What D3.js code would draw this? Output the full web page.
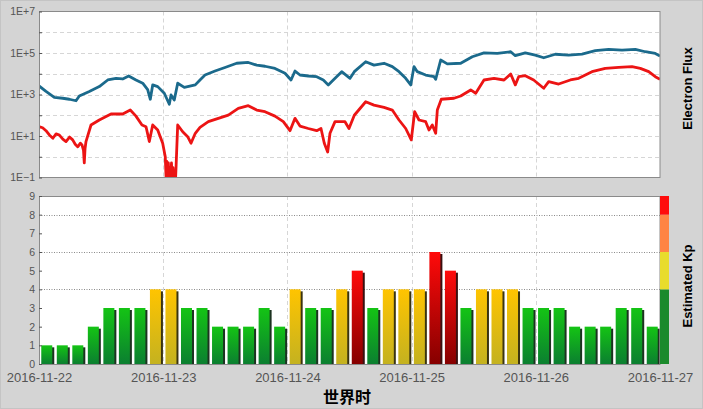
<!DOCTYPE html>
<html>
<head>
<meta charset="utf-8">
<script src="https://cdn.jsdelivr.net/npm/d3@7"></script>
<style>
  html, body { margin: 0; padding: 0; background: #d4d4d4; }
  svg { display: block; }
</style>
</head>
<body>
<svg id="chart" width="703" height="409"></svg>
<script>
// ---------------- DATA ----------------
const dayLabels = ["2016-11-22", "2016-11-23", "2016-11-24", "2016-11-25", "2016-11-26", "2016-11-27"];
const fluxTickExponents = [-1, 0, 1, 2, 3, 4, 5, 6, 7];
const kpTicks = [0, 1, 2, 3, 4, 5, 6, 7, 8, 9];
const kpGridLevels = [4, 6, 8];

// Estimated Kp, 3-hour intervals starting 2016-11-22 00:00 UT
const kpValues = [1, 1, 1, 2, 3, 3, 3, 4, 4, 3,
                  3, 2, 2, 2, 3, 2, 4, 3, 3, 4,
                  5, 3, 4, 4, 4, 6, 5, 3, 4, 4,
                  4, 3, 3, 3, 2, 2, 2, 3, 3, 2];

// Electron flux (higher series, blue): hours since 2016-11-22 00:00 UT
const blueHours = [0, 1.35, 2.96, 4.58, 5.86, 7.15, 7.79, 9.72, 11.65, 13.28, 14.88, 16.17, 17.33, 18.74, 20.04, 21.0, 21.51, 21.97, 22.94, 24.21, 25.18, 25.51, 26.14, 26.8, 28.08, 30.2,
  31.11, 32.08, 34.01, 35.94, 38.2, 40.44, 42.07, 43.67, 45.6, 47.54, 48.7, 49.47, 50.43, 52.04, 53.66, 54.94, 55.9, 56.87, 58.49, 60.1, 60.93,
  63.13, 64.73, 66.67, 68.27, 69.57, 70.86, 71.83, 72.46, 73.1, 74.72, 76.33, 76.65, 77.62, 78.9, 81.49, 83.73, 85.99, 88.56, 91.15, 92.04, 93.97,
  95.9, 97.53, 99.77, 102.36, 104.93, 107.5, 110.09, 112.66, 115.23, 117.16, 119.09, 120];
const blueFlux = [2600, 1400, 730, 660, 590, 500, 850, 1400, 2400, 5000, 6000, 5600, 7800, 5000, 3500, 1700, 590, 2900, 2400, 1150, 340, 950, 540, 3500, 2200, 2900,
  5000, 8700, 13500, 20000, 32000, 35000, 26000, 23000, 18000, 10500, 5000, 13500, 8700, 7800, 7200, 5000, 2900, 5000, 12600, 6000, 12600,
  38000, 26000, 32000, 22000, 12600, 6000, 2900, 22000, 12600, 8700, 7200, 5400, 46000, 30000, 32000, 66000, 102000, 95000, 115000, 74000, 102000,
  79000, 59000, 87000, 79000, 89000, 129000, 151000, 138000, 151000, 115000, 95000, 72000];

// Electron flux (lower series, red)
const redHours = [0, 0.7, 1.35, 2.0, 2.68, 3.3, 3.94, 4.6, 5.22, 5.9, 6.51, 7.0, 7.48, 8.0, 8.31, 8.6, 8.75, 8.9, 9.08, 10.05, 11.65, 13.91, 16.17, 17.64, 18.74, 19.9, 20.68, 21.32, 21.97, 22.94, 23.9,
  24.4, 24.6, 24.7, 24.85, 25.0, 25.15, 25.3, 25.45, 25.6, 25.75, 25.9, 26.05, 26.2, 26.35, 26.5, 26.8, 27.77, 28.73, 29.37, 30.2,
  31.11, 32.72, 34.65, 36.58, 38.51, 40.44, 42.07, 43.67, 45.6, 47.21, 48.5, 49.47, 50.43, 52.04, 53.66, 54.49, 55.13, 55.78, 56.23, 57.2, 59.13, 59.9, 60.93,
  63.13, 64.73, 66.67, 68.27, 69.57, 70.86, 71.94, 72.59, 73.43, 74.72, 75.36, 76.0, 76.65, 76.97, 77.74, 80.19, 81.49, 83.42, 84.39, 85.99, 87.92, 89.86, 91.15, 92.04, 92.69, 93.97,
  95.59, 97.53, 98.49, 100.42, 102.67, 104.29, 106.86, 109.43, 112.02, 114.59, 116.19, 117.82, 119.09, 120];
const redFlux = [28, 25, 18, 11.2, 7.8, 12.6, 11, 7.1, 5.4, 8.9, 6.5, 4.0, 3.0, 4.5, 3.7, 2.0, 0.51, 2.5, 5.4, 34, 59, 115, 115, 178, 91, 34, 28, 5.4, 34, 19.5, 4.5,
  1.0, 0.05, 0.6, 0.05, 0.5, 0.05, 0.3, 0.05, 0.5, 0.05, 0.3, 0.05, 0.2, 0.05, 0.4, 34, 16, 9.3, 4.5, 13.5,
  26, 49, 71, 102, 214, 288, 178, 148, 91, 49, 18, 71, 30, 23, 18, 23, 4.5, 1.7, 13.5, 49, 49, 23, 100,
  447, 309, 240, 178, 59, 23, 6.5, 148, 59, 49, 19.5, 34, 13.5, 178, 589, 660, 851, 1660, 1150, 5000, 6000, 5000, 9800, 2900, 7200, 8100,
  5000, 2000, 4200, 3200, 5000, 6000, 12600, 18200, 20400, 21900, 18200, 12600, 7200, 5400];

// ---------------- LAYOUT ----------------
const svg = d3.select("#chart");
const W = 703, H = 409;
const left = 39, right = 660;
const top1 = 11.5, bot1 = 177.5;
const top2 = 196, bot2 = 364;
const t0 = Date.UTC(2016, 10, 22);
const HOUR = 3600 * 1000;

const x = d3.scaleUtc().domain([t0, t0 + 120 * HOUR]).range([left, right]);
const yF = d3.scaleLog().domain([0.1, 1e7]).range([bot1, top1]);
const yK = d3.scaleLinear().domain([0, 9]).range([bot2, top2]);

const dayDates = dayLabels.map((d, i) => new Date(t0 + i * 24 * HOUR));

// background frame
svg.append("rect").attr("x", 0.5).attr("y", 0.5).attr("width", W - 1).attr("height", H - 1)
  .attr("fill", "#d4d4d4").attr("stroke", "#c4c4c4");

const defs = svg.append("defs");
defs.append("clipPath").attr("id", "clip1").append("rect")
  .attr("x", left).attr("y", top1).attr("width", right - left).attr("height", bot1 - top1);

function grad(id, c1, c2) {
  const g = defs.append("linearGradient").attr("id", id).attr("x1", 0).attr("y1", 0).attr("x2", 0).attr("y2", 1);
  g.append("stop").attr("offset", "0%").attr("stop-color", c1);
  g.append("stop").attr("offset", "100%").attr("stop-color", c2);
}
grad("gGreen", "#14c414", "#0b7f30");
grad("gYellow", "#ffc400", "#c4b220");
grad("gRed", "#ff0a0a", "#860000");

// ---------------- TOP PANEL ----------------
svg.append("rect").attr("x", left).attr("y", top1).attr("width", right - left).attr("height", bot1 - top1)
  .attr("fill", "#ffffff");

svg.append("g").selectAll("line").data(fluxTickExponents.slice(1, -1)).join("line")
  .attr("x1", left).attr("x2", right)
  .attr("y1", d => Math.round(yF(Math.pow(10, d))) + 0.5).attr("y2", d => Math.round(yF(Math.pow(10, d))) + 0.5)
  .attr("stroke", "#d6d6d6").attr("stroke-dasharray", "4,3");
svg.append("g").selectAll("line").data(dayDates.slice(1, -1)).join("line")
  .attr("x1", d => Math.round(x(d)) + 0.5).attr("x2", d => Math.round(x(d)) + 0.5)
  .attr("y1", top1).attr("y2", bot1)
  .attr("stroke", "#d6d6d6").attr("stroke-dasharray", "4,3");

const line = d3.line().x(d => x(new Date(t0 + d[0] * HOUR))).y(d => yF(d[1]));
const plot1 = svg.append("g").attr("clip-path", "url(#clip1)");
plot1.append("path").datum(redHours.map((h, i) => [h, redFlux[i]]))
  .attr("d", line).attr("fill", "none").attr("stroke", "#ec1414").attr("stroke-width", 2.8).attr("stroke-linejoin", "round");
plot1.append("path").datum(blueHours.map((h, i) => [h, blueFlux[i]]))
  .attr("d", line).attr("fill", "none").attr("stroke", "#1b6a8c").attr("stroke-width", 2.8).attr("stroke-linejoin", "round");

svg.append("rect").attr("x", left + 0.5).attr("y", top1).attr("width", right - left - 0.5).attr("height", bot1 - top1)
  .attr("fill", "none").attr("stroke", "#8a8a8a");

const axF = d3.axisLeft(yF)
  .tickValues(fluxTickExponents.map(e => Math.pow(10, e)))
  .tickSizeInner(-3).tickSizeOuter(0).tickPadding(4)
  .tickFormat(v => {
    const e = Math.round(Math.log10(v));
    if (e % 2 === 0) return "";
    return "1E" + (e >= 0 ? "+" : "\u2212") + Math.abs(e);
  });
const gF = svg.append("g").attr("transform", `translate(${left},0)`).call(axF);
gF.select(".domain").remove();
gF.selectAll("line").attr("stroke", "#555");
gF.selectAll("text").attr("fill", "#555").style("font", "10.5px 'Liberation Sans', Arial, sans-serif");

svg.append("text").attr("transform", `translate(692,${(top1 + bot1) / 2 - 6}) rotate(-90)`)
  .attr("text-anchor", "middle")
  .style("font", "bold 13px 'Liberation Sans', Arial, sans-serif").attr("fill", "#000")
  .text("Electron Flux");

// ---------------- BOTTOM PANEL ----------------
svg.append("rect").attr("x", left).attr("y", top2).attr("width", right - left).attr("height", bot2 - top2)
  .attr("fill", "#ffffff");

svg.append("g").selectAll("line").data(dayDates.slice(1, -1)).join("line")
  .attr("x1", d => Math.round(x(d)) + 0.5).attr("x2", d => Math.round(x(d)) + 0.5)
  .attr("y1", top2).attr("y2", bot2)
  .attr("stroke", "#d6d6d6").attr("stroke-dasharray", "4,3");
svg.append("g").selectAll("line").data(kpGridLevels).join("line")
  .attr("x1", left).attr("x2", right)
  .attr("y1", d => Math.round(yK(d)) + 0.5).attr("y2", d => Math.round(yK(d)) + 0.5)
  .attr("stroke", "#8a8a8a").attr("stroke-dasharray", "1,1.5");

const barW = 11;
const barData = kpValues.map((v, i) => ({ v, c: new Date(t0 + (i * 3 + 1.5) * HOUR) }));
function fillFor(v) { return v >= 5 ? "url(#gRed)" : (v >= 4 ? "url(#gYellow)" : "url(#gGreen)"); }
function shadowFor(v) { return v >= 5 ? "#3a1010" : (v >= 4 ? "#3a3410" : "#1c3320"); }

const bars = svg.append("g");
bars.selectAll("rect.sh").data(barData).join("rect").attr("class", "sh")
  .attr("x", d => x(d.c) - barW / 2 + 2).attr("y", d => yK(d.v) + 2)
  .attr("width", barW).attr("height", d => bot2 - yK(d.v) - 2)
  .attr("fill", d => shadowFor(d.v));
bars.selectAll("rect.b").data(barData).join("rect").attr("class", "b")
  .attr("x", d => x(d.c) - barW / 2).attr("y", d => yK(d.v))
  .attr("width", barW).attr("height", d => bot2 - yK(d.v))
  .attr("fill", d => fillFor(d.v));

svg.append("rect").attr("x", left + 0.5).attr("y", top2 + 0.5).attr("width", right - left - 0.5).attr("height", bot2 - top2)
  .attr("fill", "none").attr("stroke", "#8a8a8a");

const kpBands = [[0, 4, "#1b8a2c"], [4, 6, "#e8dc2c"], [6, 8, "#ff8444"], [8, 9, "#ff0c0c"]];
svg.append("g").selectAll("rect").data(kpBands).join("rect")
  .attr("x", right).attr("width", 9)
  .attr("y", d => yK(d[1])).attr("height", d => yK(d[0]) - yK(d[1]))
  .attr("fill", d => d[2]);

const axK = d3.axisLeft(yK).tickValues(kpTicks).tickSizeInner(-3).tickSizeOuter(0).tickPadding(4).tickFormat(d3.format("d"));
const gK = svg.append("g").attr("transform", `translate(${left},0)`).call(axK);
gK.select(".domain").remove();
gK.selectAll("line").attr("stroke", "#555");
gK.selectAll("text").attr("fill", "#555").style("font", "10.5px 'Liberation Sans', Arial, sans-serif");

const axX = d3.axisBottom(x).tickValues(dayDates).tickSize(0).tickPadding(9)
  .tickFormat((d, i) => dayLabels[i]);
const gX = svg.append("g").attr("transform", `translate(0,${bot2})`).call(axX);
gX.select(".domain").remove();
gX.selectAll("text").attr("fill", "#555").style("font", "13px 'Liberation Sans', Arial, sans-serif");

svg.append("text").attr("transform", `translate(692,${(top2 + bot2) / 2 + 6}) rotate(-90)`)
  .attr("text-anchor", "middle")
  .style("font", "bold 13px 'Liberation Sans', Arial, sans-serif").attr("fill", "#000")
  .text("Estimated Kp");

svg.append("text").attr("x", 347).attr("y", 403).attr("text-anchor", "middle")
  .style("font", "bold 16px 'Noto Sans CJK SC', sans-serif").attr("fill", "#000")
  .text("世界时");
</script>
</body>
</html>
